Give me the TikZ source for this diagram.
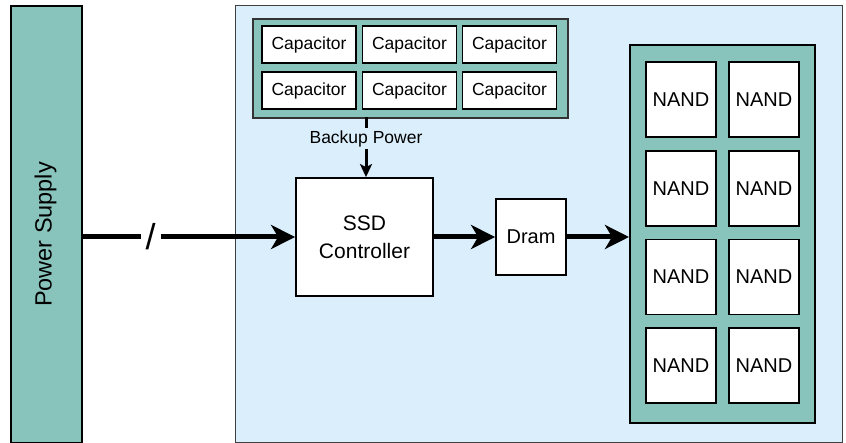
\documentclass[tikz,border=0pt]{standalone}
\usepackage{fontspec}
\setmainfont{Liberation Sans}
\usetikzlibrary{arrows.meta}
\definecolor{teal1}{HTML}{88C4BC}
\definecolor{lblue}{HTML}{DAEEFB}
\begin{document}
\begin{tikzpicture}[x=1pt,y=-1pt,
  box/.style={draw=black,line width=1.8pt,fill=white,inner sep=0pt,align=center},
  capbox/.style={box,minimum width=94pt,minimum height=37pt,font=\fontsize{17.5}{20}\selectfont},
  nandbox/.style={box,minimum width=70pt,minimum height=75pt,font=\fontsize{20}{24}\selectfont},
  big/.style={-{Stealth[length=24pt,width=24pt,inset=7pt]},line width=5pt},
]
\useasboundingbox (0,0) rectangle (846,443);
% power supply
\node[draw=black,line width=1.8pt,fill=teal1,minimum width=71pt,minimum height=437pt,inner sep=0pt,anchor=north west] (ps) at (10,5) {};
\node[rotate=90,font=\fontsize{23.5}{28}\selectfont] (pslabel) at (45.5,234.5) {Power Supply};
% SSD box
\node[draw=black!75,line width=1.4pt,fill=lblue,minimum width=607pt,minimum height=437pt,inner sep=0pt,anchor=north west] (ssd) at (235,5) {};
% capacitor bank
\node[draw=black!80,line width=1.8pt,fill=teal1,minimum width=315pt,minimum height=99pt,inner sep=0pt,anchor=north west] (capbank) at (252,18) {};
\node[capbox] (c11) at (309,44.5) {Capacitor};
\node[capbox] (c12) at (409.5,44.5) {Capacitor};
\node[capbox] (c13) at (509.5,44.5) {Capacitor};
\node[capbox] (c21) at (309,90.5) {Capacitor};
\node[capbox] (c22) at (409.5,90.5) {Capacitor};
\node[capbox] (c23) at (509.5,90.5) {Capacitor};
% controller
\node[box,minimum width=137pt,minimum height=118pt,font=\fontsize{21}{28}\selectfont] (ctrl) at (364.5,237) {SSD\\Controller};
% dram
\node[box,minimum width=70pt,minimum height=76pt,font=\fontsize{20}{24}\selectfont] (dram) at (531,237) {Dram};
% NAND bank
\node[draw=black,line width=1.8pt,fill=teal1,minimum width=185pt,minimum height=378pt,inner sep=0pt,anchor=north west] (nandbank) at (629,44) {};
\foreach \r/\y in {1/99.5,2/188.5,3/277,4/365.5}{
  \node[nandbox] (n\r1) at (681,\y) {NAND};
  \node[nandbox] (n\r2) at (764,\y) {NAND};
}
% connectors
\coordinate (bpstart) at (366,117);
\draw[-{Stealth[length=13pt,width=12pt,inset=3pt]},line width=3pt] (bpstart) -- (ctrl.north -| bpstart)
  node[pos=0.36,fill=lblue,inner xsep=1pt,inner ysep=2pt,font=\fontsize{17.5}{20}\selectfont] (bp) {Backup Power};
\draw[big] (ps.east |- ctrl.west) -- (ctrl.west)
  node[pos=0.32,fill=white,inner xsep=5pt,inner ysep=0pt,font=\fontsize{36}{36}\selectfont] (slash) {/};
\draw[big] (ctrl.east) -- (dram.west);
\draw[big] (dram.east) -- (nandbank.west |- dram.east);
\end{tikzpicture}
\end{document}
